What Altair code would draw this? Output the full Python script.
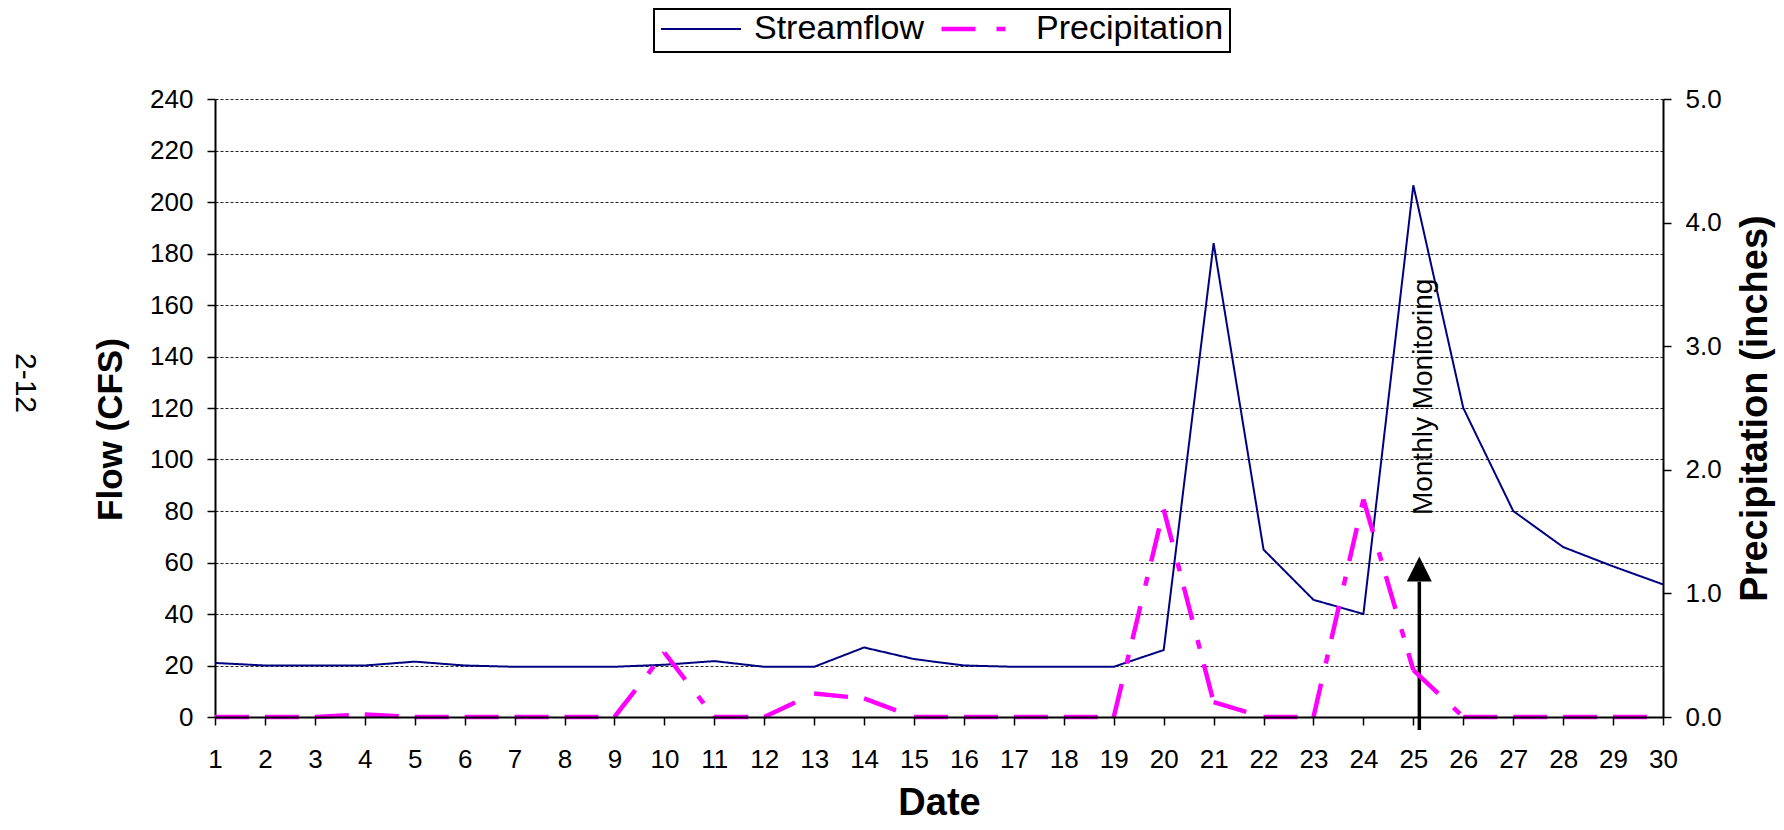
import altair as alt
import pandas as pd

# ---------------- data ----------------
days = list(range(1, 31))
streamflow = [21, 20, 20, 20, 21.5, 20, 19.5, 19.5, 19.5, 20.3,
              21.7, 19.5, 19.5, 27, 22.5, 20, 19.5, 19.5, 19.5, 26,
              184, 65, 45.5, 40, 206.5, 120, 80, 66, 58.5, 51.5]
precipitation = [0, 0, 0, 0.02, 0, 0, 0, 0, 0, 0.52,
                 0, 0, 0.19, 0.15, 0, 0, 0, 0, 0, 1.68,
                 0.12, 0, 0, 1.76, 0.38, 0, 0, 0, 0, 0]
series_names = ["Streamflow", "Precipitation"]
series_colors = ["#000080", "#FF00FF"]
flow_ticks = list(range(0, 241, 20))
precip_ticks = [0, 1, 2, 3, 4, 5]

# annotation (in data units: day, CFS)
arrow_day = [25.12]
arrow_from = [-5]
arrow_to = [52.5]
arrow_head = [57.5]
note_day = [25.21]
note_flow = [78.4]
note_text = ["Monthly Monitoring"]
page_text = ["2-12"]

FONT = "Liberation Sans"

# ---------------- tables ----------------
flow_df = pd.DataFrame({"day": days, "flow": streamflow, "series": series_names[0]})
rows = []
for i in range(len(days) - 1):
    rows.append({"day": days[i], "precip": precipitation[i], "seg": i, "series": series_names[1]})
    rows.append({"day": days[i + 1], "precip": precipitation[i + 1], "seg": i, "series": series_names[1]})
precip_df = pd.DataFrame(rows)
arrow_df = pd.DataFrame({"day": arrow_day, "y0": arrow_from, "y1": arrow_to, "head": arrow_head})
note_df = pd.DataFrame({"day": note_day, "flow": note_flow, "label": note_text})
page_df = pd.DataFrame({"label": page_text})

x_axis = alt.Axis(values=days, title="Date", labelFontSize=26, labelPadding=21, tickSize=8,
                  labelFlush=False, titleFontSize=38, titleFontWeight="bold", titleY=97,
                  titleBaseline="alphabetic", zindex=1, grid=False)


def X(field):
    return alt.X(f"{field}:Q", scale=alt.Scale(domain=[1, 30], nice=False, zero=False), axis=x_axis)


left_axis = alt.Axis(values=flow_ticks, title="Flow (CFS)", orient="left", labelFontSize=26,
                     labelPadding=14, tickSize=8, grid=True, gridColor="#222", gridDash=[3, 2],
                     gridWidth=1, titleFontSize=35, titleFontWeight="bold", titleAngle=270,
                     titleX=-105, titleY=330, titleAlign="center", titleBaseline="middle")


def YL(field):
    return alt.Y(f"{field}:Q", scale=alt.Scale(domain=[0, 240], nice=False), axis=left_axis)


def legend():
    return alt.Legend(orient="none", legendX=439, legendY=-90, direction="horizontal",
                      title=None, labelFontSize=34, labelFont=FONT, labelLimit=500,
                      symbolType="stroke", symbolSize=6400, clipHeight=28, labelOffset=12,
                      columnPadding=14, padding=6, strokeColor="black")


color = alt.Color("series:N", scale=alt.Scale(domain=series_names, range=series_colors), legend=legend())
dash = alt.StrokeDash("series:N", scale=alt.Scale(domain=series_names, range=[[1, 0], [34, 21, 9, 16]]),
                      legend=legend())
width_enc = alt.StrokeWidth("series:N", scale=alt.Scale(domain=series_names, range=[2, 4.5]),
                            legend=legend())

flow_line = alt.Chart(flow_df).mark_line().encode(
    x=X("day"), y=YL("flow"), color=color, strokeDash=dash, strokeWidth=width_enc)

arrow_shaft = alt.Chart(arrow_df).mark_rule(color="black", strokeWidth=3.5).encode(
    x=X("day"), y=YL("y0"), y2="y1:Q")
arrow_tip = alt.Chart(arrow_df).mark_point(shape="M-1,1L1,1L0,-1Z", filled=True, color="black",
                                           opacity=1, size=625).encode(x=X("day"), y=YL("head"))
note = alt.Chart(note_df).mark_text(angle=270, align="left", baseline="middle", fontSize=28,
                                    font=FONT, color="black").encode(
    x=X("day"), y=YL("flow"), text="label:N")
page = alt.Chart(page_df).mark_text(angle=90, align="center", baseline="middle", fontSize=30,
                                    font=FONT, color="black").encode(
    x=alt.value(-190), y=alt.value(284), text="label:N")

inner = alt.layer(flow_line, arrow_shaft, arrow_tip, note, page)

right_axis = alt.Axis(values=precip_ticks, format=".1f", title="Precipitation (inches)", orient="right",
                      labelFontSize=26, labelPadding=14, tickSize=8, grid=False,
                      titleFontSize=38, titleFontWeight="bold", titleAngle=270,
                      titleX=92, titleY=309, titleAlign="center", titleBaseline="middle")

precip_line = alt.Chart(precip_df).mark_line().encode(
    x=X("day"),
    y=alt.Y("precip:Q", scale=alt.Scale(domain=[0, 5], nice=False), axis=right_axis),
    detail="seg:N", color=color, strokeDash=dash, strokeWidth=width_enc)

chart = alt.layer(inner, precip_line).resolve_scale(y="independent").properties(
    width=1448, height=618,
    autosize=alt.AutoSizeParams(type="none"),
    padding={"left": 207, "top": 91, "right": 113, "bottom": 105},
).configure_view(stroke=None).configure_axis(
    labelFont=FONT, titleFont=FONT, labelColor="black", titleColor="black",
    domainColor="black", domainWidth=2, tickColor="black", tickWidth=1.5,
).configure_legend(strokeWidth=2)

chart.save("out.html", embed_options={"renderer": "svg", "actions": False})
